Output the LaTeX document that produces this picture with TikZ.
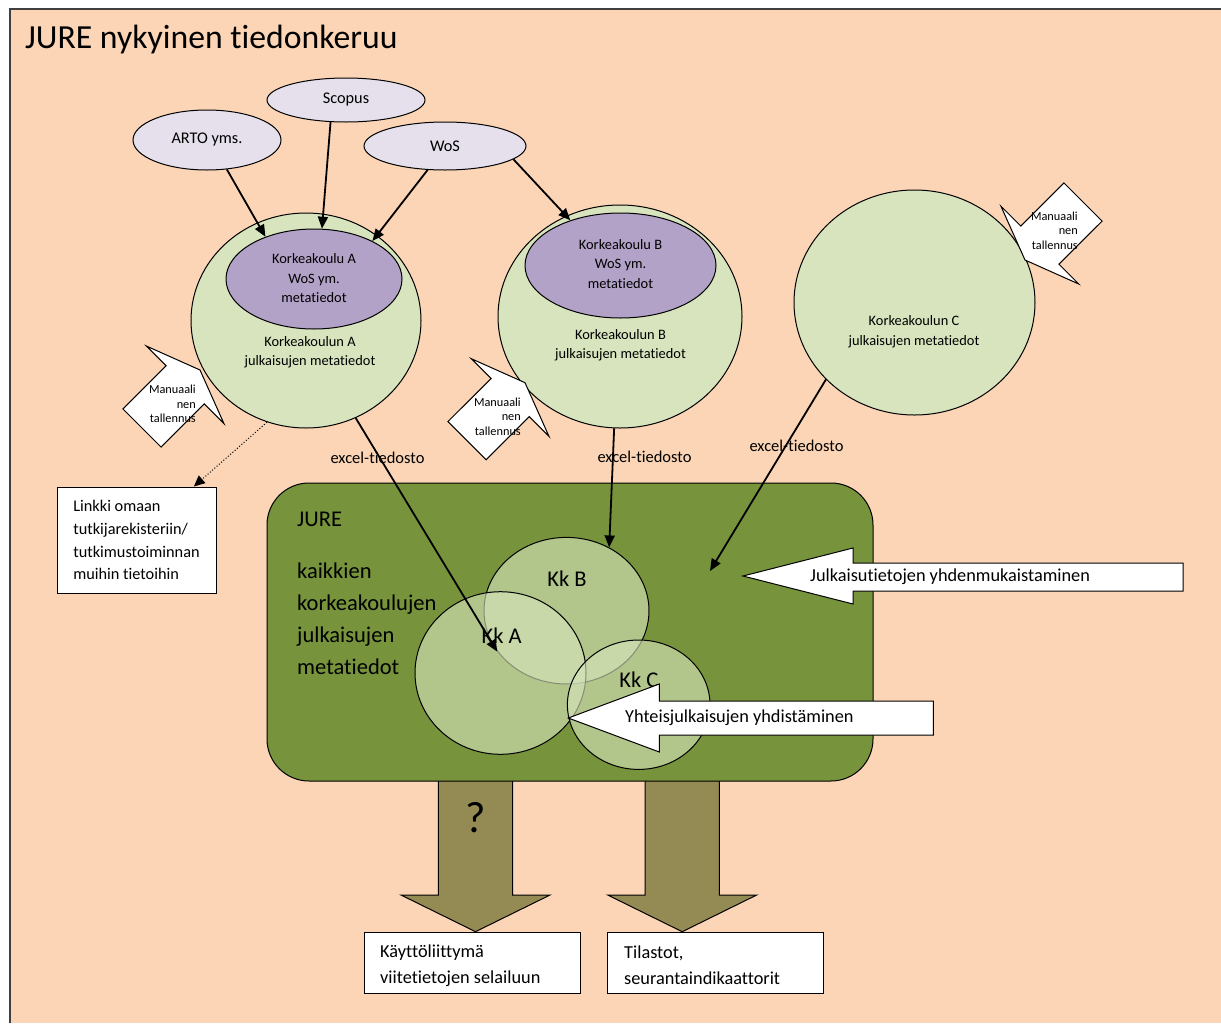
\documentclass[tikz,border=0pt]{standalone}
\usepackage{fontspec}
\setmainfont{Carlito}[Ligatures={NoCommon,NoContextual}]
\usetikzlibrary{shapes.geometric,arrows.meta}
\definecolor{peach}{HTML}{FBD5B5}
\definecolor{olivebox}{HTML}{77933C}
\definecolor{olivearrow}{HTML}{948A54}
\definecolor{lightgreen}{HTML}{D7E4BD}
\definecolor{purpfill}{HTML}{B3A2C7}
\definecolor{lavfill}{HTML}{E5E0EC}
\newcommand\myfs[2]{\fontsize{#1}{#2}\selectfont}
\begin{document}
\begin{tikzpicture}[x=1pt,y=-1pt,
  ell/.style={ellipse, draw, line width=1, inner sep=0},
  src/.style={ell, fill=lavfill, font=\myfs{16.3}{19.6}},
  big/.style={ell, fill=lightgreen},
  inner/.style={ell, fill=purpfill},
  kk/.style={ellipse, draw, line width=1, fill=lightgreen, fill opacity=0.62, inner sep=0},
  arr/.style={line width=1.8, -{Triangle[length=12pt,width=10pt]}},
  dotarr/.style={line width=1, dotted, -{Triangle[length=11pt,width=10pt]}},
  wbox/.style={draw, fill=white, line width=1, inner sep=0},
  callout/.style={draw, fill=white, line width=1, line join=miter},
  bigarr/.style={draw, fill=olivearrow, line width=1, line join=miter},
  txt/.style={inner sep=0},
  small/.style={txt, align=center, font=\myfs{14.4}{19.5}},
  manual/.style={txt, align=right, anchor=east, font=\myfs{12.3}{14.7}},
  excel/.style={txt, font=\myfs{16.5}{19}},
  kklabel/.style={txt, font=\myfs{22.5}{27}},
  mid/.style={txt, anchor=west, font=\myfs{18.3}{25.6}, align=left}
]
\useasboundingbox (0,0) rectangle (1221,1023);
\fill[white] (0,0) rectangle (1221,1023);
\fill[peach] (10,9) rectangle (1221,1023);
\draw[line width=1.5, black!75] (10,1023) -- (10,9) -- (1221,9);

% title
\node[anchor=base west, inner sep=0, font=\myfs{33.7}{40}] (title) at (25,48.3) {JURE nykyinen tiedonkeruu};

% source ellipses
\node[src, minimum width=148, minimum height=60] (arto) at (207,140) {ARTO yms.};
\node[src, minimum width=158, minimum height=44] (scopus) at (346,100) {Scopus};
\node[src, minimum width=162, minimum height=48] (wos) at (445,146) {WoS};

% big circles
\node[big, minimum width=230, minimum height=215] (circA) at (306,320.5) {};
\node[inner, minimum width=176, minimum height=100] (purpA) at (314,279) {};
\node[big, minimum width=244, minimum height=223] (circB) at (620,316.5) {};
\node[inner, minimum width=191, minimum height=105] (purpB) at (620.5,265.5) {};
\node[big, minimum width=241, minimum height=225] (circC) at (914.5,302.5) {};

\node[small] (tpA) at (314,278.5) {Korkeakoulu A\\WoS ym.\\metatiedot};
\node[small] (tcA) at (310,352) {Korkeakoulun A\\julkaisujen metatiedot};
\node[small] (tpB) at (620.5,264) {Korkeakoulu B\\WoS ym.\\metatiedot};
\node[small] (tcB) at (620.5,345) {Korkeakoulun B\\julkaisujen metatiedot};
\node[small] (tcC) at (914,331.5) {Korkeakoulun C\\julkaisujen metatiedot};

% source arrows
\draw[arr] (arto.-56.3) -- (purpA.139.3);
\draw[arr] (scopus.-125.5) -- (purpA.81.6);
\draw[arr] (wos.-126.4) -- (purpA.33.2);
\draw[arr] (wos.-11.3) -- (purpB.138.7);

% manual save callouts
\draw[callout, shift={(200,370)}] (0,0) -- (24,53.7) -- (4.2,33.9) -- (-38.9,77.1) -- (-77.1,38.9) -- (-33.9,-4.2) -- (-53.7,-24) -- cycle;
\draw[callout, shift={(525,382.7)}] (0,0) -- (24,53.7) -- (4.2,33.9) -- (-38.9,77.1) -- (-77.1,38.9) -- (-33.9,-4.2) -- (-53.7,-24) -- cycle;
\draw[callout, shift={(1025,260)}, rotate=180] (0,0) -- (24,53.7) -- (4.2,33.9) -- (-38.9,77.1) -- (-77.1,38.9) -- (-33.9,-4.2) -- (-53.7,-24) -- cycle;
\node[manual] (mA) at (196,404) {Manuaali\\nen\\tallennus};
\node[manual] (mB) at (521,416.5) {Manuaali\\nen\\tallennus};
\node[manual] (mC) at (1078,230.5) {Manuaali\\nen\\tallennus};

% link box
\node[wbox, minimum width=159, minimum height=106, align=left, font=\myfs{16.3}{22.8}] (linkki) at (136.5,540) {Linkki omaan\\tutkijarekisteriin/\\tutkimustoiminnan\\muihin tietoihin};
\draw[dotarr] (circA.249.4) -- (linkki.43.7);

% big output arrows
\draw[bigarr] (438.3,778) -- (512.7,778) -- (512.7,895) -- (550,895) -- (475.5,931.7) -- (401,895) -- (438.3,895) -- cycle;
\draw[bigarr] (645,778) -- (719.3,778) -- (719.3,895) -- (756.7,895) -- (682.2,931.7) -- (607.7,895) -- (645,895) -- cycle;
\node[txt, font=\myfs{44}{50}] (q) at (476,817.5) {?};

% JURE box
\node[draw, fill=olivebox, rounded corners=42, minimum width=606, minimum height=298, line width=1] (jure) at (570,632) {};
\node[txt, anchor=west, font=\myfs{22.5}{27}] (jtitle) at (297,519) {JURE};
\node[txt, anchor=west, align=left, font=\myfs{22.5}{32}] (jtext) at (297,618.7) {kaikkien\\korkeakoulujen\\julkaisujen\\metatiedot};

% Kk circles
\node[kk, minimum width=165, minimum height=146.6] (kkB) at (566.5,610.7) {};
\node[kk, minimum width=171, minimum height=162.6] (kkA) at (500.5,673) {};
\node[kk, minimum width=142.6, minimum height=129.4] (kkC) at (638.7,704.7) {};
\node[kklabel] (lB) at (567,579) {Kk B};
\node[kklabel] (lA) at (501.7,636) {Kk A};
\node[kklabel] (lC) at (638.8,680) {Kk C};

% excel arrows
\coordinate (tipA) at (497.3,651.7);
\coordinate (tipC) at (710,571);
\draw[arr] (circA.-63.4) -- (tipA);
\draw[arr] (circB.-93.1) -- (kkB.56.8);
\draw[arr] (circC.221) -- (tipC);
\node[excel] (eA) at (377.5,458) {excel-tiedosto};
\node[excel] (eB) at (644.5,457) {excel-tiedosto};
\node[excel] (eC) at (796.5,446) {excel-tiedosto};

% white process arrows
\draw[callout] (743,576) -- (853,548) -- (853,563) -- (1183,563) -- (1183,591) -- (853,591) -- (853,604) -- cycle;
\node[mid] (julk) at (810,577) {Julkaisutietojen yhdenmukaistaminen};
\draw[callout] (568.3,718) -- (659.3,684) -- (659.3,701) -- (933.3,701) -- (933.3,735) -- (659.3,735) -- (659.3,752) -- cycle;
\node[mid] (yht) at (625,718) {Yhteisjulkaisujen yhdistäminen};

% output boxes
\node[wbox, minimum width=216, minimum height=61] (out1) at (472,962.8) {};
\node[mid] (out1t) at (380,965.5) {Käyttöliittymä\\viitetietojen selailuun};
\node[wbox, minimum width=216.3, minimum height=61] (out2) at (715.8,962.8) {};
\node[mid] (out2t) at (624,965.5) {Tilastot,\\seurantaindikaattorit};
\end{tikzpicture}
\end{document}
